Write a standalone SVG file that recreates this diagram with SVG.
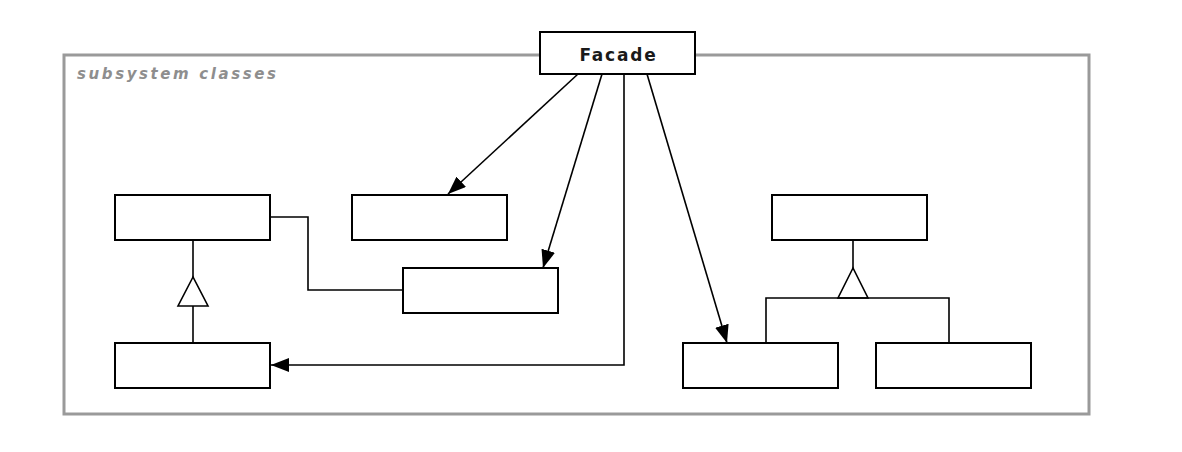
<svg xmlns="http://www.w3.org/2000/svg" width="1182" height="452" viewBox="0 0 1182 452">
  <style>
    .cls { fill: #fff; stroke: #000; stroke-width: 2; }
    .link { fill: none; stroke: #000; stroke-width: 1.6; }
    .frame { fill: none; stroke: #9a9a9a; stroke-width: 3; }
    .label { font-family: "DejaVu Sans", Verdana, sans-serif; }
  </style>
  <defs>
    <marker id="arrow" viewBox="0 0 18 14" refX="18" refY="7" markerWidth="18" markerHeight="14" markerUnits="userSpaceOnUse" orient="auto">
      <path d="M0,0 L18,7 L0,14 Z" fill="#000"/>
    </marker>
  </defs>
  <rect width="1182" height="452" fill="#fff"/>

  <!-- subsystem boundary -->
  <g id="subsystem">
    <rect class="frame" x="64" y="55" width="1025" height="359"/>
    <text class="label" x="77" y="79" font-size="15" font-weight="bold" font-style="italic" letter-spacing="2.6" fill="#8e8e8e">subsystem classes</text>
  </g>

  <!-- connectors -->
  <g id="connectors">
    <line class="link" x1="578" y1="74" x2="448" y2="194" marker-end="url(#arrow)"/>
    <line class="link" x1="602" y1="74" x2="543" y2="268" marker-end="url(#arrow)"/>
    <polyline class="link" points="624,74 624,365 271,365" marker-end="url(#arrow)"/>
    <line class="link" x1="647" y1="74" x2="727" y2="343" marker-end="url(#arrow)"/>
    <polyline class="link" points="270,217 308,217 308,290 403,290"/>
    <!-- generalization, left -->
    <line class="link" x1="193" y1="240" x2="193" y2="277"/>
    <polygon class="link" points="193,277 178,306 208,306" fill="#fff"/>
    <line class="link" x1="193" y1="306" x2="193" y2="343"/>
    <!-- generalization, right -->
    <line class="link" x1="853" y1="240" x2="853" y2="268"/>
    <polygon class="link" points="853,268 838,298 868,298" fill="#fff"/>
    <polyline class="link" points="766,343 766,298 949,298 949,343"/>
  </g>

  <g id="facade">
    <rect class="cls" x="540" y="32" width="155" height="42"/>
    <text class="label" x="618.5" y="61" font-size="17" font-weight="bold" letter-spacing="1.8" text-anchor="middle" fill="#1a1a1a">Facade</text>
  </g>
  <g id="classA"><rect class="cls" x="115" y="195" width="155" height="45"/></g>
  <g id="classB"><rect class="cls" x="352" y="195" width="155" height="45"/></g>
  <g id="classC"><rect class="cls" x="403" y="268" width="155" height="45"/></g>
  <g id="classD"><rect class="cls" x="115" y="343" width="155" height="45"/></g>
  <g id="classE"><rect class="cls" x="772" y="195" width="155" height="45"/></g>
  <g id="classF"><rect class="cls" x="683" y="343" width="155" height="45"/></g>
  <g id="classG"><rect class="cls" x="876" y="343" width="155" height="45"/></g>
</svg>
